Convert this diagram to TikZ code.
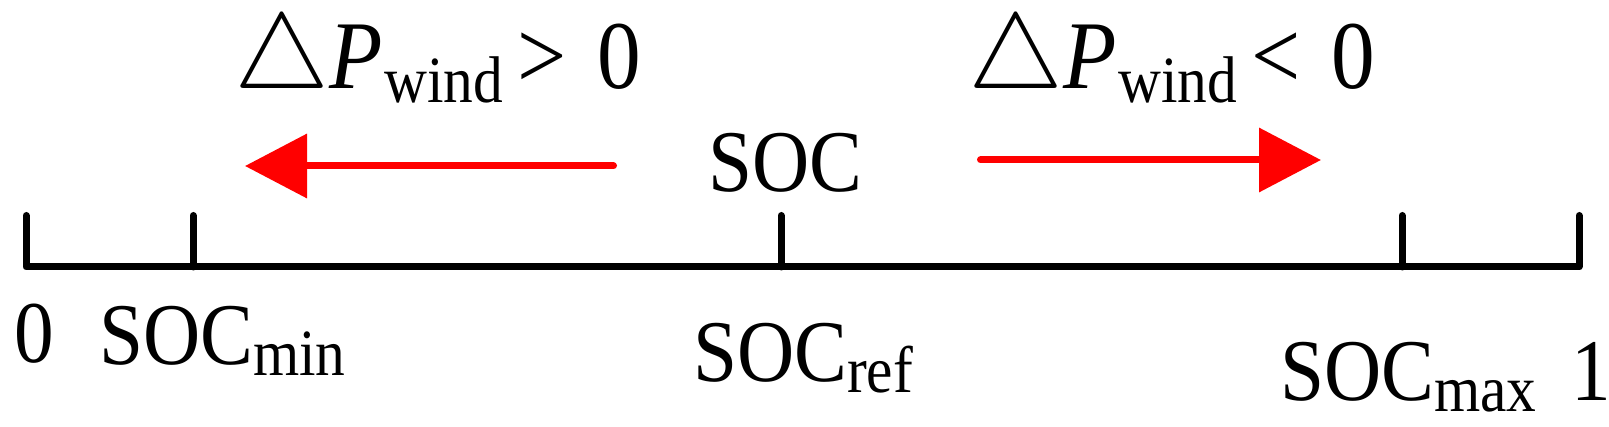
\RequirePackage{fix-cm}
\documentclass[tikz,border=0pt]{standalone}
\usepackage{fontspec}
\setmainfont[FakeStretch=0.9]{Liberation Serif}
\usetikzlibrary{arrows.meta}
\newcommand{\mysub}[2]{\raisebox{-#1pt}{\fontsize{66}{66}\selectfont #2}}
\newcommand{\mytri}{{\fontsize{107}{107}\selectfont$\triangle$}}
\tikzset{
  lbl/.style={anchor=base west, inner sep=0pt, outer sep=0pt, font=\fontsize{88}{90}\selectfont},
  toplbl/.style={anchor=base west, inner sep=0pt, outer sep=0pt, font=\fontsize{97}{100}\selectfont},
  axisline/.style={draw=black, line width=7pt, line join=round, line cap=round},
  redarrow/.style={draw=red, fill=red, line width=7pt, line cap=round, -{Triangle[length=62pt,width=63pt]}}
}
\begin{document}
\begin{tikzpicture}[x=1pt, y=-1pt]
\useasboundingbox (0,0) rectangle (1609,427);
% axis coordinates
\coordinate (t0) at (26,267);   \coordinate (t0top) at (26,215.5);
\coordinate (tmin) at (193,267); \coordinate (tmintop) at (193,215.5);
\coordinate (tref) at (781,267); \coordinate (treftop) at (781,215.5);
\coordinate (tmax) at (1402,267); \coordinate (tmaxtop) at (1402,215.5);
\coordinate (t1) at (1579,267); \coordinate (t1top) at (1579,215.5);
\draw[axisline] (t0top) -- (t0) -- (t1) -- (t1top);
\draw[axisline] (tmintop) -- (tmin);
\draw[axisline] (treftop) -- (tref);
\draw[axisline] (tmaxtop) -- (tmax);
% arrows
\coordinate (la) at (613.5,166); \coordinate (lb) at (245,166);
\coordinate (ra) at (980.5,160); \coordinate (rb) at (1321,160);
\draw[redarrow] (la) -- (lb);
\draw[redarrow] (ra) -- (rb);
% labels
\node[toplbl] (dpos) at (234,89) {\mytri\kern0pt\textit{P}\kern2pt\mysub{14}{wind}\kern14pt>\kern31pt0};
\node[toplbl] (dneg) at (968,89) {\mytri\kern0pt\textit{P}\kern2pt\mysub{14}{wind}\kern14pt<\kern31pt0};
\node[lbl] (soc) at (708,192) {SOC};
\node[lbl] (zero) at (14,363) {0};
\node[lbl] (socmin) at (99,365) {SOC\mysub{11}{min}};
\node[lbl] (socref) at (693,382) {SOC\mysub{11}{ref}};
\node[lbl] (socmax) at (1280,401) {SOC\mysub{11}{max}};
\node[lbl] (one) at (1571,401) {1};
\end{tikzpicture}
\end{document}
